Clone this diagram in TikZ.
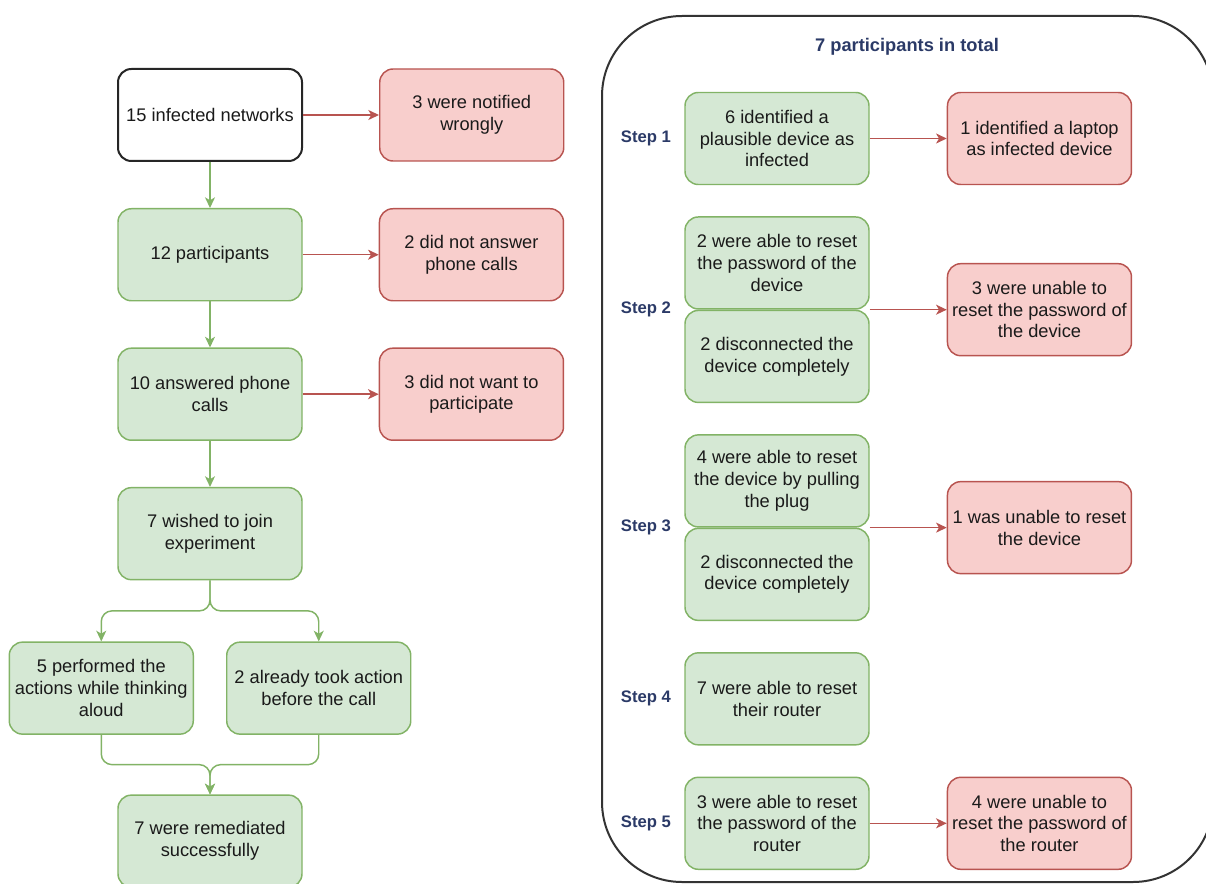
\documentclass[tikz,border=0pt]{standalone}
\usepackage{fontspec}
\setmainfont{Liberation Sans}
\usetikzlibrary{positioning,arrows.meta,calc}

\definecolor{okfill}{HTML}{D5E8D4}
\definecolor{okdraw}{HTML}{82B366}
\definecolor{badfill}{HTML}{F8CECC}
\definecolor{baddraw}{HTML}{B85450}
\definecolor{inktext}{HTML}{1A1A1A}
\definecolor{navy}{HTML}{2B3A67}

\begin{document}
\begin{tikzpicture}[
        x=0.75pt, y=-0.75pt,
        box/.style={
                rectangle,
                rounded corners=10pt,
                line width=1.1pt,
                minimum width=138pt,
                minimum height=69pt,
                align=center,
                text=inktext,
                font=\fontsize{13.7pt}{16.3pt}\selectfont
            },
        okbox/.style={box, draw=okdraw, fill=okfill},
        badbox/.style={box, draw=baddraw, fill=badfill},
        startbox/.style={box, draw=black!85, fill=white, line width=1.5pt},
        steplabel/.style={font=\bfseries\fontsize{12.5pt}{15pt}\selectfont, text=navy, inner sep=0pt},
        heading/.style={font=\bfseries\fontsize{13.7pt}{16pt}\selectfont, text=navy},
        panel/.style={draw=black!80, line width=1.5pt, rounded corners=60pt},
        okarrow/.style={-{Stealth[length=8pt,width=7.5pt,inset=2.2pt]}, draw=okdraw, line width=1.1pt, rounded corners=8pt},
        badarrow/.style={-{Stealth[length=8pt,width=7.5pt,inset=2.2pt]}, draw=baddraw, line width=1.1pt},
        node distance=34.5pt
    ]
    \useasboundingbox (0,0) rectangle (1206,884);

    % recruitment funnel
    \node[startbox] (infect) at (210,115) {15 infected networks};
    \node[okbox] (part) [below=of infect] {12 participants};
    \node[okbox] (answer) [below=of part] {10 answered phone\\calls};
    \node[okbox] (wish) [below=of answer] {7 wished to join\\experiment};
    \node[okbox] (perf) [below left=45.75pt and 12pt of wish.south] {5 performed the\\actions while thinking\\aloud};
    \node[okbox] (took) [below right=45.75pt and 12pt of wish.south] {2 already took action\\before the call};
    \node[okbox] (remed) [below=160.5pt of wish] {7 were remediated\\successfully};

    \node[badbox] (wrong) [right=57pt of infect] {3 were notified\\wrongly};
    \node[badbox] (noans) [right=57pt of part] {2 did not answer\\phone calls};
    \node[badbox] (nowant) [right=57pt of answer] {3 did not want to\\participate};

    \coordinate (split) at ($(wish.south)!0.5!(wish.south |- perf.north)$);
    \coordinate (merge) at ($(remed.north)!0.5!(remed.north |- perf.south)$);

    \draw[okarrow] (infect) -- (part);
    \draw[okarrow] (part) -- (answer);
    \draw[okarrow] (answer) -- (wish);
    \draw[okarrow] (wish.south) -- (split) -| (perf.north);
    \draw[okarrow] (wish.south) -- (split) -| (took.north);
    \draw[okarrow] (perf.south) |- (merge) -- (remed.north);
    \draw[okarrow] (took.south) |- (merge) -- (remed.north);

    \draw[badarrow] (infect) -- (wrong);
    \draw[badarrow] (part) -- (noans);
    \draw[badarrow] (answer) -- (nowant);

    % experiment steps
    \draw[panel] (602,16) rectangle (1213,882);
    \node[heading] (total) at (907,47) {7 participants in total};

    \node[okbox] (s1) at (777,138.5) {6 identified a\\plausible device as\\infected};
    \node[okbox] (s2top) [below=23.25pt of s1] {2 were able to reset\\the password of the\\device};
    \node[okbox] (s2bot) [below=0pt of s2top] {2 disconnected the\\device completely};
    \node[okbox] (s3top) [below=23.25pt of s2bot] {4 were able to reset\\the device by pulling\\the plug};
    \node[okbox] (s3bot) [below=0pt of s3top] {2 disconnected the\\device completely};
    \node[okbox] (s4) [below=23.25pt of s3bot] {7 were able to reset\\their router};
    \node[okbox] (s5) [below=23.25pt of s4] {3 were able to reset\\the password of the\\router};

    \node[badbox] (s1bad) [right=57.75pt of s1] {1 identified a laptop\\as infected device};
    \node[badbox] (s2bad) [right=57.75pt of s2top.south east] {3 were unable to\\reset the password of\\the device};
    \node[badbox] (s3bad) [right=57.75pt of s3top.south east] {1 was unable to reset\\the device};
    \node[badbox] (s5bad) [right=57.75pt of s5] {4 were unable to\\reset the password of\\the router};

    \node[steplabel] (step1) [left=9.75pt of s1] {Step 1};
    \node[steplabel] (step2) [left=9.75pt of s2top.south west] {Step 2};
    \node[steplabel] (step3) [left=9.75pt of s3top.south west] {Step 3};
    \node[steplabel] (step4) [left=9.75pt of s4] {Step 4};
    \node[steplabel] (step5) [left=9.75pt of s5] {Step 5};

    \draw[badarrow] (s1) -- (s1bad);
    \draw[badarrow] (s2top.south east) -- (s2bad);
    \draw[badarrow] (s3top.south east) -- (s3bad);
    \draw[badarrow] (s5) -- (s5bad);
\end{tikzpicture}
\end{document}
